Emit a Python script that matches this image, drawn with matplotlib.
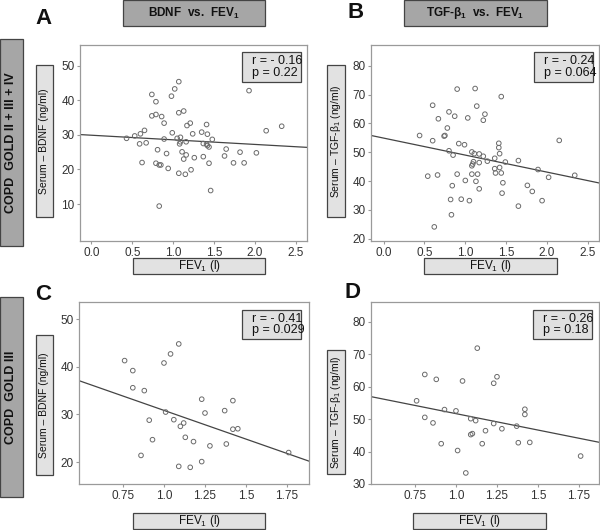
import matplotlib
matplotlib.use("Agg")
import matplotlib.pyplot as plt
from matplotlib.patches import Rectangle
import numpy as np

plt.rcParams['font.family'] = ['Liberation Sans', 'DejaVu Sans']
plt.rcParams['mathtext.fontset'] = 'custom'
plt.rcParams['mathtext.rm'] = 'Liberation Sans'
plt.rcParams['mathtext.bf'] = 'Liberation Sans:bold'
plt.rcParams['mathtext.default'] = 'regular'

# ---- data ----
# A: BDNF vs FEV1, GOLD II+III+IV
fev_a = [0.43, 0.53, 0.60, 0.65, 0.59, 0.67, 0.62, 0.74, 0.79, 0.74, 0.79, 0.86, 0.89, 0.89,
         0.81, 0.79, 0.83, 0.85, 0.92, 0.94, 0.83, 0.99, 0.98, 1.02, 1.07, 1.07, 1.13, 1.05,
         1.09, 1.09, 1.08, 1.11, 1.13, 1.16, 1.07, 1.15, 1.17, 1.21, 1.16, 1.22, 1.24, 1.26,
         1.35, 1.41, 1.42, 1.37, 1.41, 1.42, 1.44, 1.37, 1.48, 1.44, 1.46, 1.63, 1.65, 1.82,
         1.74, 1.87, 1.93, 2.02, 2.14, 2.33]
bdnf_a = [29.0, 29.7, 30.3, 31.3, 27.4, 27.7, 22.0, 41.7, 39.6, 35.5, 35.9, 35.3, 33.4, 28.8,
          25.7, 21.8, 21.3, 21.3, 24.6, 20.3, 9.4, 30.6, 41.2, 43.3, 45.4, 36.4, 36.9, 29.0,
          29.3, 28.0, 27.4, 25.1, 23.0, 24.2, 18.9, 18.6, 32.7, 33.4, 28.0, 19.9, 30.3, 23.4,
          30.8, 33.0, 30.2, 27.5, 27.3, 26.9, 26.5, 23.7, 28.7, 21.8, 13.9, 23.9, 25.9, 25.0,
          21.9, 21.9, 42.8, 24.8, 31.2, 32.5]

# B: TGF-beta1 vs FEV1, GOLD II+III+IV
fev_b = [0.44, 0.60, 0.60, 0.67, 0.54, 0.66, 0.62, 0.80, 0.78, 0.74, 0.75, 0.87, 0.80, 0.85,
         0.90, 0.92, 0.99, 0.90, 0.84, 0.82, 0.95, 0.83, 1.00, 1.03, 1.05, 1.12, 1.14, 1.08,
         1.11, 1.10, 1.09, 1.08, 1.08, 1.17, 1.15, 1.17, 1.13, 1.17, 1.22, 1.24, 1.22, 1.27,
         1.36, 1.36, 1.37, 1.41, 1.41, 1.42, 1.42, 1.44, 1.44, 1.46, 1.45, 1.49, 1.65, 1.65,
         1.76, 1.82, 1.89, 1.94, 2.02, 2.15, 2.34]
tgf_b = [55.8, 66.3, 54.0, 61.6, 41.7, 42.1, 24.1, 64.0, 58.4, 55.6, 55.8, 62.5, 50.5, 49.0,
         71.9, 53.0, 52.6, 42.4, 38.4, 33.6, 33.7, 28.3, 40.2, 61.9, 33.2, 72.1, 66.0, 50.1,
         49.5, 46.7, 45.9, 45.3, 42.4, 49.4, 42.4, 46.4, 39.9, 37.3, 61.1, 63.2, 48.6, 46.9,
         47.9, 44.3, 42.8, 53.1, 51.6, 49.5, 44.7, 69.3, 42.8, 39.4, 35.8, 46.6, 47.1, 31.3,
         38.5, 36.4, 44.0, 33.2, 41.3, 54.1, 42.0]

# C: BDNF vs FEV1, GOLD III
fev_c = [0.76, 0.81, 0.81, 0.88, 0.86, 0.91, 0.93, 1.00, 1.04, 1.09, 1.01, 1.06, 1.10, 1.12,
         1.13, 1.18, 1.09, 1.16, 1.23, 1.23, 1.25, 1.28, 1.37, 1.42, 1.42, 1.45, 1.38, 1.76]
bdnf_c = [41.3, 39.2, 35.6, 35.0, 21.4, 28.8, 24.7, 40.8, 42.7, 44.8, 30.5, 28.9, 27.5, 28.2,
          25.2, 24.3, 19.1, 18.9, 20.1, 33.2, 30.3, 23.4, 30.8, 32.9, 26.9, 27.0, 23.8, 22.0]

# D: TGF-beta1 vs FEV1, GOLD III
fev_d = [0.76, 0.81, 0.81, 0.88, 0.86, 0.91, 0.93, 1.00, 1.01, 1.04, 1.06, 1.13, 1.09, 1.12,
         1.09, 1.10, 1.16, 1.18, 1.23, 1.25, 1.23, 1.28, 1.37, 1.38, 1.42, 1.42, 1.45, 1.76]
tgf_d = [55.6, 63.7, 50.5, 62.2, 48.8, 42.4, 52.9, 52.5, 40.3, 61.7, 33.4, 71.8, 50.1, 49.5,
         45.2, 45.5, 42.4, 46.4, 61.0, 63.0, 48.6, 47.0, 47.8, 42.7, 53.0, 51.4, 42.8, 38.6]

# regression lines (intercept, slope) and statistics
fits = {'A': (29.9, -1.33), 'B': (54.9, -5.9), 'C': (42.9, -12.05), 'D': (61.75, -10.1)}
stats = {'A': ('- 0.16', '0.22'), 'B': ('- 0.24', '0.064'),
         'C': ('- 0.41', '0.029'), 'D': ('- 0.26', '0.18')}

W, H = 600, 530
fig = plt.figure(figsize=(W / 100, H / 100), dpi=100)


def frac(x0, y0, x1, y1):
    return [x0 / W, 1 - y1 / H, (x1 - x0) / W, (y1 - y0) / H]


def box(x0, y0, x1, y1, text, face, rot=0, bold=False, size=9, edge='#444444', family=None):
    l, b, w, h = frac(x0, y0, x1, y1)
    fig.add_artist(Rectangle((l, b), w, h, transform=fig.transFigure,
                             facecolor=face, edgecolor=edge, lw=0.9))
    kw = {}
    if family:
        kw['family'] = family
    fig.text(l + w / 2, b + h / 2, text, rotation=rot, ha='center', va='center',
             fontsize=size, fontweight='bold' if bold else 'normal', color='#111111', **kw)


def panel(pos, x, y, key, xlim, ylim, xticks, xlabels, yticks):
    ax = fig.add_axes(frac(*pos))
    ax.scatter(x, y, s=11, facecolors='none', edgecolors='#6a6a6a', linewidths=0.7, zorder=3)
    ax.set_xlim(xlim)
    ax.set_ylim(ylim)
    b0, b1 = fits[key]
    xs = np.array(xlim)
    ax.plot(xs, b0 + b1 * xs, color='#444444', lw=0.9, zorder=2)
    ax.set_xticks(xticks)
    ax.set_xticklabels(xlabels)
    ax.set_yticks(yticks)
    for s in ax.spines.values():
        s.set_color('#9a9a9a')
        s.set_linewidth(0.9)
    ax.tick_params(length=2.5, width=0.8, color='#9a9a9a', labelsize=8.5,
                   labelcolor='#333333', pad=1.5)
    return ax


xa = [0.0, 0.5, 1.0, 1.5, 2.0, 2.5]
xa_lab = ['0.0', '0.5', '1.0', '1.5', '2.0', '2.5']
xc = [0.75, 1.0, 1.25, 1.5, 1.75]
xc_lab = ['0.75', '1.0', '1.25', '1.5', '1.75']

panel((80, 45, 307, 241), fev_a, bdnf_a, 'A', (-0.14, 2.64), (-0.7, 56), xa, xa_lab,
      [10, 20, 30, 40, 50])
panel((371, 45, 599, 241), fev_b, tgf_b, 'B', (-0.155, 2.637), (19.2, 87.2), xa, xa_lab,
      [20, 30, 40, 50, 60, 70, 80])
panel((79, 302, 309, 484), fev_c, bdnf_c, 'C', (0.482, 1.884), (15.4, 53.6), xc, xc_lab,
      [20, 30, 40, 50])
panel((371, 302, 599, 484), fev_d, tgf_d, 'D', (0.482, 1.872), (30, 86), xc, xc_lab,
      [30, 40, 50, 60, 70, 80])

# statistic boxes
for key, (x0, y0, x1, y1) in {'A': (242, 52, 301, 82), 'B': (534, 52, 593, 82),
                              'C': (242, 310, 301, 339), 'D': (533, 310, 592, 339)}.items():
    l, b, w, h = frac(x0, y0, x1, y1)
    fig.add_artist(Rectangle((l, b), w, h, transform=fig.transFigure,
                             facecolor='#e0e0e0', edgecolor='#444444', lw=0.9, zorder=5))
    r, p = stats[key]
    fig.text(l + 10 / W, b + h / 2, 'r = %s\np = %s' % (r, p), ha='left', va='center',
             fontsize=9, linespacing=0.95, color='#111111', zorder=6)

# column titles
box(123, 0, 265, 26, r'BDNF  vs.  FEV$_\mathbf{1}$', '#a6a6a6', bold=True, size=8.5)
box(404, 0, 547, 26, r'TGF-$\mathbf{\beta_1}$  vs.  FEV$_\mathbf{1}$', '#a6a6a6', bold=True, size=8.5)

# row titles
narrow = ['Liberation Sans Narrow', 'Liberation Sans', 'DejaVu Sans']
box(0, 39, 23, 246, 'COPD  GOLD II + III + IV', '#a6a6a6', rot=90, bold=True, size=9,
    family=narrow)
box(0, 297, 23, 497, 'COPD  GOLD III', '#a6a6a6', rot=90, bold=True, size=9, family=narrow)

# y labels
ylab_bdnf = 'Serum \u2013 BDNF (ng/ml)'
ylab_tgf = 'Serum \u2013 TGF-$\\beta_1$ (ng/ml)'
box(36, 65, 53, 217, ylab_bdnf, '#e2e2e2', rot=90, size=7.5)
box(327, 65, 345, 217, ylab_tgf, '#e2e2e2', rot=90, size=7.5)
box(36, 335, 53, 475, ylab_bdnf, '#e2e2e2', rot=90, size=7.5)
box(327, 350, 345, 474, ylab_tgf, '#e2e2e2', rot=90, size=7.5)

# x labels
for x0, y0, x1, y1 in [(133, 258, 265, 274), (424, 258, 557, 274),
                       (133, 513, 265, 529), (413, 513, 546, 529)]:
    box(x0, y0, x1, y1, r'FEV$_1$ (l)', '#e2e2e2', size=8.5)

# panel letters
for letter, (px, py) in {'A': (43, 18), 'B': (356, 12), 'C': (43, 294), 'D': (353, 293)}.items():
    fig.text(px / W, 1 - py / H, letter, fontsize=16, fontweight='bold',
             ha='center', va='center', color='#111111')

fig.savefig('out.png', dpi=100)
